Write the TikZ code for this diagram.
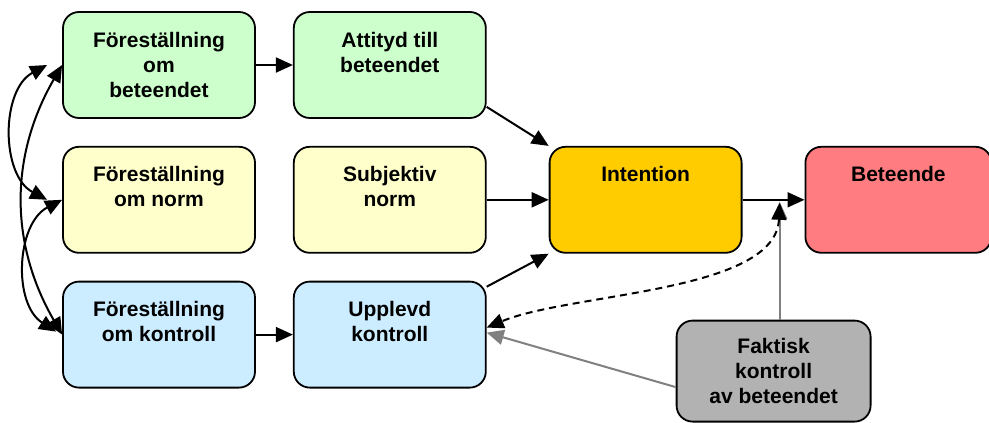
\documentclass[tikz,border=0pt]{standalone}
\usepackage{fontspec}
\setmainfont{Liberation Sans}
\usetikzlibrary{positioning}
\usetikzlibrary{arrows.meta}
\usetikzlibrary{calc}

\definecolor{greenbox}{HTML}{CCFFCC}
\definecolor{yellowbox}{HTML}{FFFFCC}
\definecolor{bluebox}{HTML}{CCECFF}
\definecolor{orangebox}{HTML}{FFCC00}
\definecolor{redbox}{HTML}{FF7C80}
\definecolor{greybox}{HTML}{B2B2B2}
\definecolor{greyline}{HTML}{808080}

\newcommand{\boxtext}[1]{\parbox[c][71pt][t]{186pt}{\centering\strut #1}}

\tikzset{
    block/.style={draw, line width=1.8pt, rounded corners=16pt,
        minimum width=192pt, minimum height=106pt, inner sep=0pt,
        font=\bfseries\fontsize{21}{25}\selectfont},
    arr/.style={line width=2pt, -{Triangle[length=17pt,width=15pt]}},
    darr/.style={line width=2pt,
        {Triangle[length=17pt,width=15pt]}-{Triangle[length=17pt,width=15pt]}},
    greyarr/.style={line width=2pt, greyline, -{Triangle[length=17pt,width=15pt]}}
}

\begin{document}
\begin{tikzpicture}[x=1pt,y=-1pt,node distance=27pt and 37pt]
    \useasboundingbox (0,0) rectangle (989,423);
    % beliefs and attitudes
    \node [block, fill=greenbox] (bel1) at (159,65) {\boxtext{F\"orest\"allning\\om\\beteendet}};
    \node [block, fill=greenbox, right=of bel1] (att) {\boxtext{Attityd till\\beteendet}};
    \node [block, fill=yellowbox, below=of bel1] (bel2) {\boxtext{F\"orest\"allning\\om norm}};
    \node [block, fill=yellowbox, right=of bel2] (norm) {\boxtext{Subjektiv\\norm}};
    \node [block, fill=bluebox, below=of bel2] (bel3) {\boxtext{F\"orest\"allning\\om kontroll}};
    \node [block, fill=bluebox, right=of bel3] (upp) {\boxtext{Upplevd\\kontroll}};
    % intention and behaviour
    \node [block, fill=orangebox, right=62pt of norm] (int) {\boxtext{Intention}};
    \node [block, fill=redbox, minimum width=181pt, right=62pt of int] (bet) {\boxtext{Beteende}};
    \node [block, fill=greybox, minimum width=194pt, minimum height=101pt,
        below=66pt of int, xshift=128pt] (fak) {\boxtext{Faktisk\\kontroll\\av beteendet}};
    \coordinate (join) at ($(int.east)!0.6!(bet.west)$);

    % arrows
    \draw [arr] (bel1) -- (att);
    \draw [arr] (norm) -- (int);
    \draw [arr] (bel3) -- (upp);
    \draw [arr] ([yshift=12pt]att.south east) -- (int.north west);
    \draw [arr] ([yshift=-6pt]upp.north east) -- (int.south west);
    \draw [arr] (int) -- (bet);
    \draw [greyarr] (fak.north -| join) -- ([yshift=-2pt]join);
    \draw [greyarr] ([yshift=-16pt]fak.west) -- ([yshift=2pt]upp.east);
    \draw [darr, dash pattern=on 7pt off 5pt] ([yshift=-3pt]join)
        .. controls +(-4,90) and +(84,-35) .. ([yshift=7pt]upp.east);

    % correlations between beliefs
    \draw [darr] ([xshift=-15pt]bel1.west) to [bend right=62] ([xshift=-15pt]bel2.west);
    \draw [darr] (bel1.west) to [bend right=30] (bel3.west);
    \draw [darr] (bel2.west) to [bend right=60] ([xshift=-6pt,yshift=3pt]bel3.west);
\end{tikzpicture}
\end{document}
